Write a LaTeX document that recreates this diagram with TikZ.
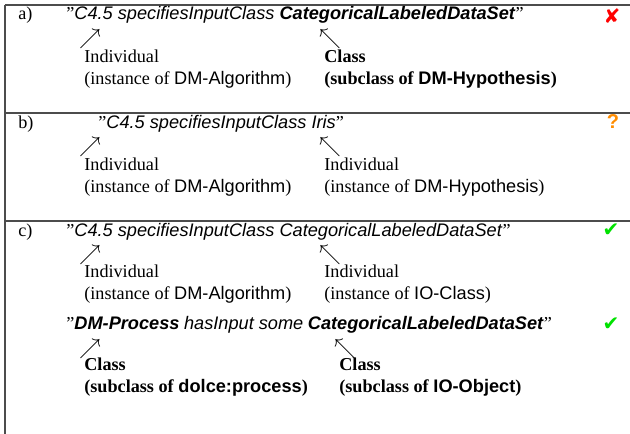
\documentclass[tikz,border=0pt]{standalone}
\usepackage{fontspec}
\setmainfont{Liberation Serif}
\setsansfont{Liberation Sans}
\newfontfamily\symfont{DejaVu Sans}
\usepackage{xcolor}
\usetikzlibrary{positioning}
\definecolor{badred}{RGB}{255,0,0}
\definecolor{warnorange}{RGB}{255,140,0}
\definecolor{okgreen}{RGB}{0,225,0}
\newcommand{\stmt}[1]{\textsf{\itshape #1}}
\newcommand{\term}[1]{\textsf{\bfseries\itshape #1}}

\begin{document}
\begin{tikzpicture}[
  x=0.55pt, y=-0.55pt,
  every node/.style={font=\fontsize{10}{11.6}\selectfont, inner sep=0pt, anchor=base west},
  desc/.style={align=left},
  ptr/.style={anchor=center, font=\fontsize{11.5}{11.5}\selectfont},
  verdict/.style={anchor=center, font=\symfont\fontsize{11}{11}\selectfont},
  rule/.style={line width=0.6pt, black!70},
]
  \useasboundingbox (0,0) rectangle (630,434);

  % Table frame: top rule, left rule and row separators
  \draw[rule] (5,5) -- (630,5);
  \draw[rule] (5,5) -- (5,434);
  \draw[rule] (5,113) -- (630,113);
  \draw[rule] (5,221) -- (630,221);

  % Row a)
  \node (rowa) at (18,20) {a)};
  \node (stmta) at (66,20) {''\stmt{C4.5 specifiesInputClass \bfseries CategoricalLabeledDataSet}''};
  \node[ptr] (ptra1) at (90,39) {$\nearrow$};
  \node[ptr] (ptra2) at (330,39) {$\nwarrow$};
  \node[desc] (desca1) at (84,84) {Individual\\(instance of \textsf{DM-Algorithm})};
  \node[desc] (desca2) at (324,84) {\textbf{Class}\\\textbf{(subclass of \textsf{DM-Hypothesis})}};
  \node[verdict, text=badred] (verda) at (612,16) {✘};

  % Row b)
  \node (rowb) at (18,128) {b)};
  \node (stmtb) at (98,128) {''\stmt{C4.5 specifiesInputClass Iris}''};
  \node[ptr] (ptrb1) at (90,147) {$\nearrow$};
  \node[ptr] (ptrb2) at (330,147) {$\nwarrow$};
  \node[desc] (descb1) at (84,192) {Individual\\(instance of \textsf{DM-Algorithm})};
  \node[desc] (descb2) at (324,192) {Individual\\(instance of \textsf{DM-Hypothesis})};
  \node[verdict, text=warnorange, font=\sffamily\bfseries\fontsize{11}{11}\selectfont] (verdb) at (613,122) {?};

  % Row c), first statement
  \node (rowc) at (18,236) {c)};
  \node (stmtc) at (66,236) {''\stmt{C4.5 specifiesInputClass CategoricalLabeledDataSet}''};
  \node[ptr] (ptrc1) at (90,255) {$\nearrow$};
  \node[ptr] (ptrc2) at (330,255) {$\nwarrow$};
  \node[desc] (descc1) at (84,299) {Individual\\(instance of \textsf{DM-Algorithm})};
  \node[desc] (descc2) at (324,299) {Individual\\(instance of \textsf{IO-Class})};
  \node[verdict, text=okgreen] (verdc) at (611,230) {✔};

  % Row c), second statement
  \node (stmtd) at (66,329) {''\term{DM-Process} \stmt{hasInput some} \term{CategoricalLabeledDataSet}''};
  \node[ptr] (ptrd1) at (90,349) {$\nearrow$};
  \node[ptr] (ptrd2) at (345,349) {$\nwarrow$};
  \node[desc] (descd1) at (84,392) {\textbf{Class}\\\textbf{(subclass of \textsf{dolce:process})}};
  \node[desc] (descd2) at (339,392) {\textbf{Class}\\\textbf{(subclass of \textsf{IO-Object})}};
  \node[verdict, text=okgreen] (verdd) at (611,324) {✔};
\end{tikzpicture}
\end{document}
